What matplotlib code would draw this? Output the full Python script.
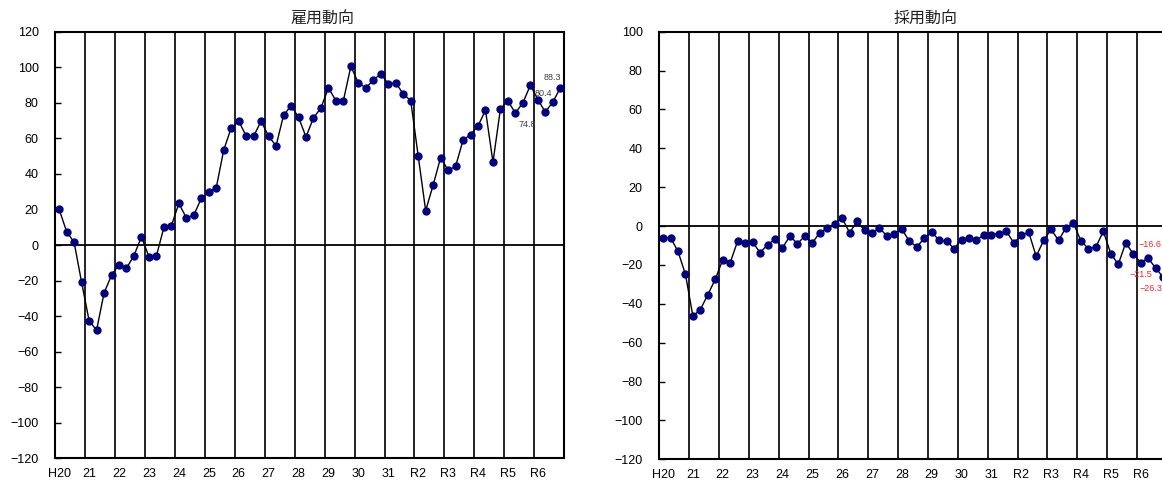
import numpy as np
import matplotlib
matplotlib.use("Agg")
import matplotlib.pyplot as plt

plt.rcParams['font.family'] = ['Liberation Sans', 'Noto Sans CJK JP']

# --- data (quarterly, H20 .. R6) ---
years = ['H20', '21', '22', '23', '24', '25', '26', '27', '28', '29',
         '30', '31', 'R2', 'R3', 'R4', 'R5', 'R6']

# 雇用動向
emp = [20, 7.5, 1.5, -21,
       -42.5, -48, -27, -17,
       -11, -13, -6, 4.7,
       -6.6, -6.2, 9.9, 10.8,
       23.4, 15.3, 16.8, 26.2,
       29.6, 32.2, 53.4, 65.9,
       69.7, 61.4, 61.2, 69.7,
       61.2, 55.8, 73, 78.3,
       71.9, 60.8, 71.5, 77.1,
       88.4, 81.2, 81.2, 100.5,
       91.2, 88.4, 92.7, 96.4,
       90.6, 91.2, 85, 81.2,
       50.2, 19.3, 33.7, 49.2,
       42.1, 44.2, 59, 62.1,
       67, 75.8, 46.6, 76.7,
       80.9, 74.3, 80, 89.9,
       81.8, 74.8, 80.4, 88.3]

# 採用動向
hire = [-6, -6, -13, -24.8,
        -46.4, -43, -35.3, -27.4,
        -17.3, -18.8, -7.7, -8.5,
        -8.2, -13.7, -9.6, -6.8,
        -11.3, -5.1, -9.1, -5.1,
        -8.7, -3.4, -1.2, 1.2,
        4, -3.4, 2.4, -2.2,
        -3.4, -1, -5.1, -3.9,
        -1.7, -7.7, -10.8, -6.3,
        -3.1, -7.4, -7.7, -11.6,
        -7, -6, -7.4, -4.4,
        -4.4, -3.9, -2.6, -8.7,
        -4.8, -3.1, -15.6, -7.4,
        -1.7, -7.4, -0.8, 1.5,
        -7.7, -11.6, -10.8, -2.7,
        -14.2, -19.7, -8.7, -14.2,
        -18.8, -16.6, -21.5, -26.3]

# last three points are labelled (offsets in pixels)
emp_lab_offsets = [(-18, -12), (-9, 9), (-8, 11)]
hire_lab_offsets = [(2, 14), (-15, -7), (-12, -11)]

x = np.arange(len(emp)) + 0.5

fig = plt.figure(figsize=(11.62, 4.83), dpi=100)
ax1 = fig.add_axes([0.0477, 0.0511, 0.4377, 0.8833])
ax2 = fig.add_axes([0.5674, 0.0491, 0.4367, 0.8853])


def draw(ax, vals, title, ylim, yticks, offsets, lab_color):
    ax.plot(x, vals, color='black', lw=1.0, marker='o', ms=5,
            mfc='#000080', mec='#000080', zorder=3)
    ax.axhline(0, color='black', lw=1.3, zorder=2)
    ax.set_xlim(0, len(vals))
    ax.set_ylim(*ylim)
    ax.set_yticks(yticks)
    ax.set_xticks(np.arange(0, len(vals), 4) + 0.5)
    ax.set_xticklabels(years)
    ax.set_xticks(np.arange(4, len(vals), 4), minor=True)
    ax.grid(True, which='minor', axis='x', color='#222222', lw=1.4)
    ax.tick_params(axis='x', which='both', length=0, pad=7, labelsize=9)
    ax.tick_params(axis='y', direction='in', length=4, width=1.0,
                   labelsize=9, pad=12)
    for s in ax.spines.values():
        s.set_linewidth(1.5)
    ax.set_title(title, fontsize=11.5, pad=6, x=0.524,
                 family=['Noto Sans CJK JP'], color='#222222')
    n = len(vals)
    for k, (dx, dy) in enumerate(offsets):
        i = n - len(offsets) + k
        ax.annotate(f"{vals[i]:.1f}".replace('-', '\u2212'), (x[i], vals[i]),
                    xytext=(dx, dy), textcoords='offset pixels',
                    ha='center', va='center', fontsize=6.5, color=lab_color)


draw(ax1, emp, '雇用動向', (-120, 120), np.arange(-120, 121, 20),
     emp_lab_offsets, '#3a3a3a')
draw(ax2, hire, '採用動向', (-120, 100), np.arange(-120, 101, 20),
     hire_lab_offsets, '#ff2020')

fig.savefig('out.png', dpi=100)
